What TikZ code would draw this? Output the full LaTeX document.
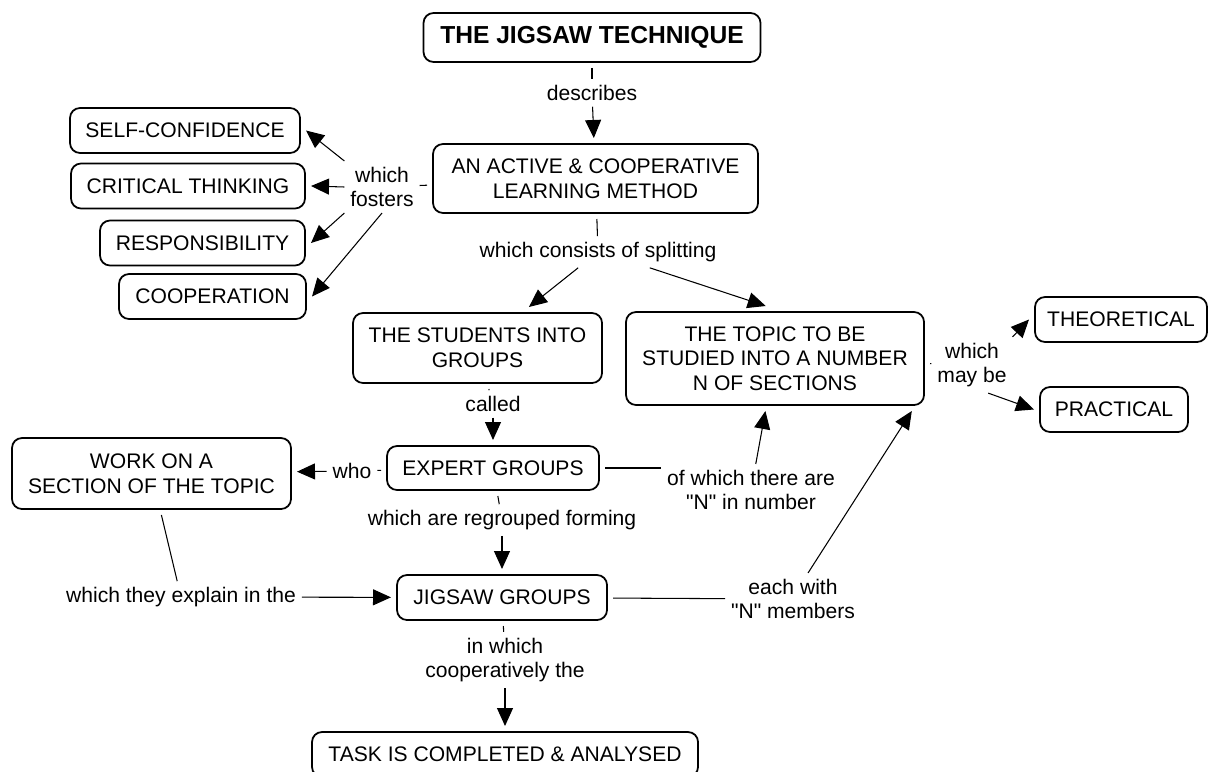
\documentclass[tikz,border=0pt]{standalone}
\usepackage{fontspec}
\setmainfont{Liberation Sans}[Ligatures=TeXOff]
\usetikzlibrary{arrows.meta}
\begin{document}
\begin{tikzpicture}[font=\fontsize{12}{14}\selectfont,
  concept/.style={draw,line width=1pt,rounded corners=0.2cm,align=center,inner sep=2pt,outer sep=0.12cm,minimum height=0.9cm},
  phrase/.style={align=center,inner sep=0.04cm,outer sep=0.08cm},
  link/.style={line width=0.6pt},
  arr/.style={line width=0.6pt,-{Triangle[length=0.36cm,width=0.32cm]}}]
\useasboundingbox(0,0)rectangle(24.2,-15.42);
% concepts
\node[concept,minimum width=6.74cm,minimum height=0.98cm,font=\fontsize{14}{16}\selectfont\bfseries](title)at(11.84,-0.75){THE JIGSAW TECHNIQUE};
\node[concept,minimum width=6.5cm,minimum height=1.38cm](method)at(11.91,-3.57){AN ACTIVE \& COOPERATIVE\\LEARNING METHOD};
\foreach \n/\x/\y/\w/\t in {self/3.70/-2.61/4.6/SELF-CONFIDENCE,crit/3.76/-3.72/4.68/CRITICAL THINKING,resp/4.05/-4.86/4.1/RESPONSIBILITY,coop/4.25/-5.93/3.74/COOPERATION}
  \node[concept,minimum width=\w cm](\n)at(\x,\y){\t};
\node[concept,minimum width=4.98cm,minimum height=1.4cm](students)at(9.55,-6.96){THE STUDENTS INTO\\GROUPS};
\node[concept,minimum width=5.96cm,minimum height=1.86cm](topic)at(15.5,-7.17){THE TOPIC TO BE\\STUDIED INTO A NUMBER\\N OF SECTIONS};
\node[concept,minimum width=3.44cm](theo)at(22.42,-6.39){THEORETICAL};
\node[concept,minimum width=2.96cm](prac)at(22.28,-8.19){PRACTICAL};
\node[concept,minimum width=5.58cm,minimum height=1.42cm](work)at(3.03,-9.47){WORK ON A\\SECTION OF THE TOPIC};
\node[concept,minimum width=4.24cm,minimum height=0.88cm](expert)at(9.86,-9.36){EXPERT GROUPS};
\node[concept,minimum width=4.2cm](jigsaw)at(10.04,-11.95){JIGSAW GROUPS};
\node[concept,minimum width=7.72cm](task)at(10.1,-15.09){TASK IS COMPLETED \& ANALYSED};
% linking phrases
\node[phrase](describes)at(11.84,-1.86){describes};
\node[phrase](fosters)at(7.64,-3.74){which\\fosters};
\node[phrase](consists)at(11.96,-5.04){which consists of splitting};
\node[phrase](maybe)at(19.44,-7.3){which\\may be};
\node[phrase](called)at(9.86,-8.08){called};
\node[phrase](who)at(7.04,-9.42){who};
\node[phrase](thereare)at(15.02,-9.8){of which there are\\"N" in number};
\node[phrase](regrouped)at(10.04,-10.4){which are regrouped forming};
\node[phrase](explain)at(3.62,-11.94){which they explain in the};
\node[phrase](eachwith)at(15.86,-11.98){each with\\"N" members};
\node[phrase](inwhich)at(10.1,-13.2){in which\\cooperatively the};
%===========================
\draw[link](title)--(describes);
\draw[arr](describes)--(method);
\draw[link](method)--(fosters);
\foreach \n/\a in {self/north west,crit/west,resp/south west,coop/south}\draw[arr](fosters.\a)--(\n.east);
\draw[link](method)--(consists);
\draw[arr](consists)--(students);
\draw[arr](consists.-17)--(topic.100);
%
\draw[link](topic)--(maybe);
\draw[arr](maybe.north east)--(theo.west);
\draw[arr](maybe.-60)--(prac.west);
%
\draw[link](students)--(called);
\draw[arr](called)--(expert);
\draw[link](expert)--(who);
\draw[arr](who)--(work);
\draw[link](expert.east)--(expert.east-|thereare.west);
\draw[arr](thereare)--(topic);
\draw[link](expert)--(regrouped);
\draw[arr](regrouped)--(jigsaw);
%
\draw[link](work)--(explain);
\draw[arr](explain)--(jigsaw);
\draw[link](jigsaw)--(eachwith);
\draw[arr](eachwith.60)--(topic.-21);
\draw[link](jigsaw)--(inwhich);
\draw[arr](inwhich)--(task);
\end{tikzpicture}
\end{document}
